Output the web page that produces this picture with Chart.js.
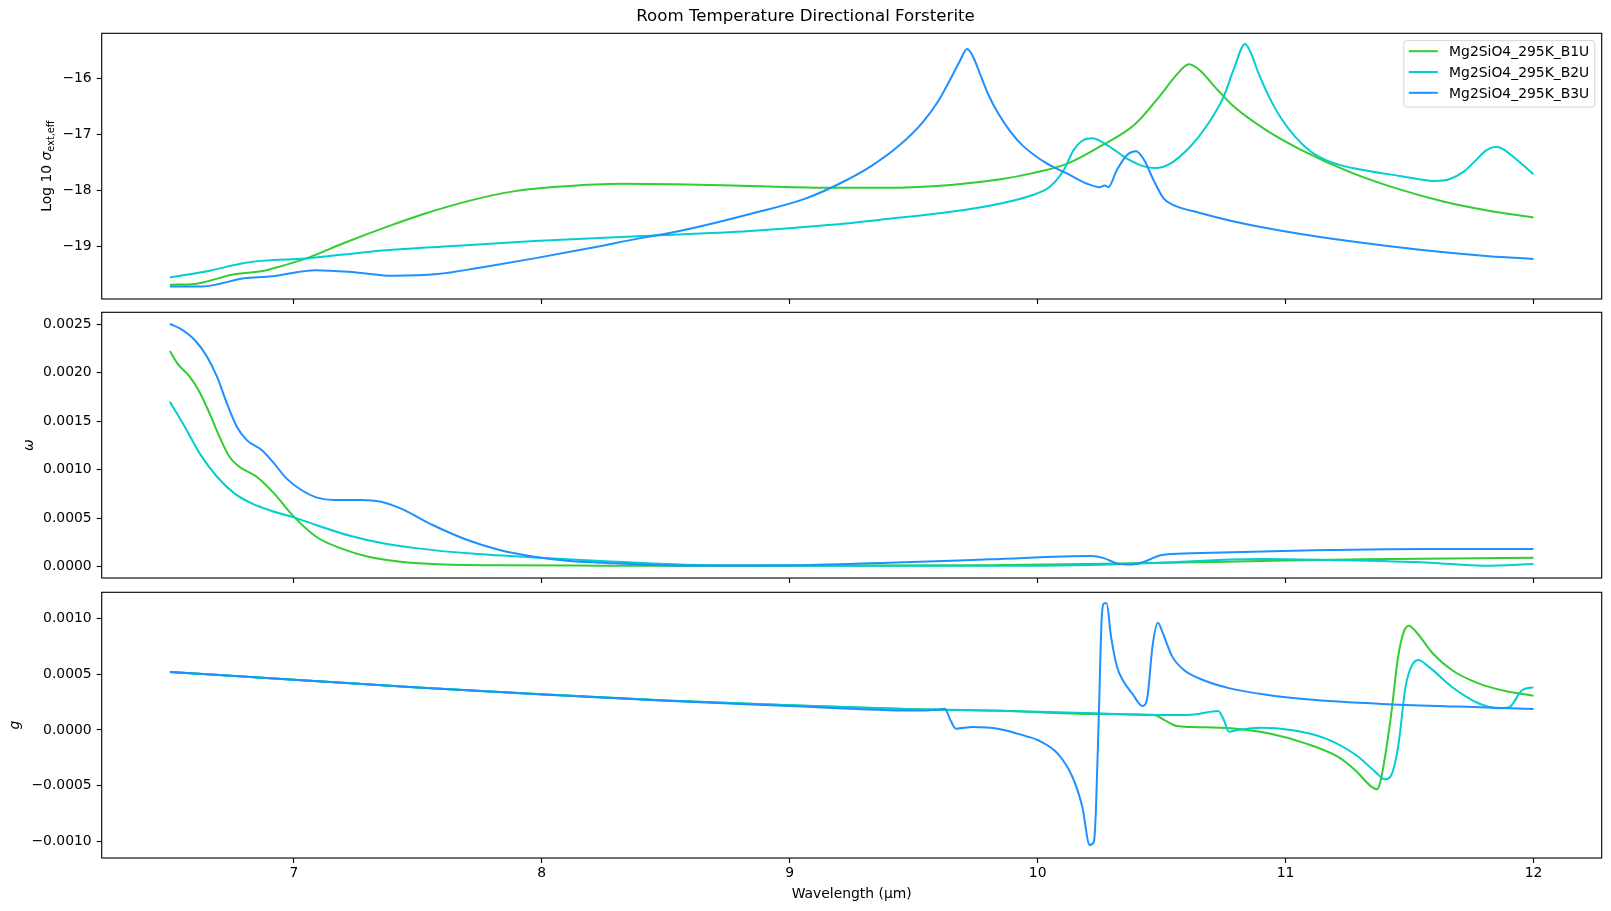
<!DOCTYPE html>
<html>
<head>
<meta charset="utf-8">
<title>Room Temperature Directional Forsterite</title>
<script src="https://cdn.jsdelivr.net/npm/chart.js@4.4.1/dist/chart.umd.min.js"></script>
<style>
  html, body { margin: 0; padding: 0; background: #fff; }
  #wrap { position: relative; width: 1611px; height: 911px; }
  #wrap canvas { position: absolute; left: 0; top: 0; }
</style>
</head>
<body>
<div id="wrap">
  <canvas id="cSigma" width="1611" height="911"></canvas>
  <canvas id="cOmega" width="1611" height="911"></canvas>
  <canvas id="cG" width="1611" height="911"></canvas>
</div>
<script>
// series names / colours
const seriesNames = ['Mg2SiO4_295K_B1U', 'Mg2SiO4_295K_B2U', 'Mg2SiO4_295K_B3U'];
const seriesColors = ['#32cd32', '#00ced1', '#1e90ff'];

// shared wavelength axis
const xMin = 6.225, xMax = 12.275;
const xTicks = [7, 8, 9, 10, 11, 12];

// panel 1: log10 sigma_ext,eff
const sigmaTicks = [-19, -18, -17, -16];
const sigB1U_x = [6.50, 6.60, 6.65, 6.75, 6.88, 6.94, 7.05, 7.20, 7.38, 7.53, 7.71, 7.88, 8.08, 8.32, 8.54, 8.84, 9.17, 9.39, 9.65, 9.85, 9.98, 10.12, 10.25, 10.39, 10.49, 10.56, 10.61, 10.655, 10.72, 10.79, 10.92, 11.06, 11.27, 11.46, 11.64, 11.82, 12.00];
const sigB1U_y = [-19.68, -19.665, -19.62, -19.50, -19.43, -19.36, -19.21, -18.94, -18.64, -18.41, -18.18, -18.02, -17.93, -17.88, -17.89, -17.92, -17.95, -17.95, -17.90, -17.80, -17.69, -17.52, -17.22, -16.83, -16.33, -15.94, -15.75, -15.86, -16.18, -16.50, -16.92, -17.27, -17.69, -17.98, -18.20, -18.36, -18.48];
const sigB2U_x = [6.50, 6.66, 6.79, 6.88, 7.05, 7.31, 7.64, 7.97, 8.41, 8.84, 9.17, 9.39, 9.65, 9.85, 9.98, 10.05, 10.105, 10.145, 10.185, 10.22, 10.28, 10.36, 10.43, 10.475, 10.535, 10.615, 10.68, 10.75, 10.79, 10.837, 10.86, 10.89, 10.93, 10.98, 11.04, 11.10, 11.18, 11.27, 11.46, 11.60, 11.66, 11.72, 11.77, 11.81, 11.85, 11.88, 11.94, 12.00];
const sigB2U_y = [-19.55, -19.43, -19.30, -19.25, -19.21, -19.09, -18.99, -18.90, -18.81, -18.72, -18.61, -18.51, -18.38, -18.23, -18.08, -17.93, -17.64, -17.28, -17.10, -17.07, -17.19, -17.43, -17.57, -17.60, -17.52, -17.22, -16.86, -16.33, -15.85, -15.39, -15.55, -15.90, -16.30, -16.70, -17.05, -17.30, -17.49, -17.60, -17.74, -17.83, -17.80, -17.66, -17.45, -17.28, -17.22, -17.27, -17.48, -17.71];
const sigB3U_x = [6.50, 6.63, 6.80, 6.90, 7.09, 7.25, 7.40, 7.58, 7.75, 7.97, 8.19, 8.41, 8.49, 8.62, 8.84, 9.06, 9.20, 9.33, 9.446, 9.537, 9.60, 9.65, 9.683, 9.716, 9.74, 9.77, 9.80, 9.84, 9.89, 9.94, 10.03, 10.12, 10.20, 10.25, 10.27, 10.285, 10.32, 10.36, 10.397, 10.43, 10.467, 10.508, 10.548, 10.655, 10.82, 11.00, 11.27, 11.55, 11.82, 12.00];
const sigB3U_y = [-19.71, -19.71, -19.565, -19.535, -19.42, -19.46, -19.52, -19.49, -19.375, -19.21, -19.03, -18.84, -18.78, -18.66, -18.42, -18.15, -17.88, -17.56, -17.18, -16.78, -16.40, -16.00, -15.72, -15.48, -15.62, -15.95, -16.28, -16.62, -16.95, -17.20, -17.50, -17.70, -17.88, -17.94, -17.91, -17.94, -17.63, -17.37, -17.30, -17.46, -17.81, -18.14, -18.26, -18.40, -18.58, -18.73, -18.91, -19.06, -19.17, -19.22];

// panel 2: single scattering albedo omega
const omegaTicks = [0, 0.0005, 0.001, 0.0015, 0.002, 0.0025];
const omB1U_x = [6.50, 6.53, 6.58, 6.62, 6.66, 6.70, 6.74, 6.78, 6.85, 6.92, 7.00, 7.09, 7.19, 7.30, 7.43, 7.56, 7.83, 8.24, 9.00, 9.80, 10.21, 10.76, 11.31, 12.00];
const omB1U_y = [0.002224, 0.002097, 0.00196, 0.0018, 0.001582, 0.001341, 0.001134, 0.001031, 0.000928, 0.000756, 0.000516, 0.000309, 0.000189, 0.000103, 0.000052, 0.000028, 0.000014, 0.000011, 0.00001, 0.000015, 0.000028, 0.000052, 0.000076, 0.000093];
const omB2U_x = [6.50, 6.56, 6.62, 6.69, 6.76, 6.83, 6.92, 7.00, 7.09, 7.23, 7.36, 7.50, 7.70, 7.97, 8.24, 8.58, 9.13, 9.94, 10.22, 10.49, 10.90, 11.17, 11.58, 11.80, 12.00];
const omB2U_y = [0.001702, 0.001444, 0.001169, 0.000928, 0.000756, 0.000653, 0.000567, 0.000509, 0.00043, 0.000316, 0.000241, 0.000189, 0.000138, 0.000096, 0.00006, 0.000021, 0.00001, 0.00001, 0.000017, 0.000042, 0.000079, 0.000069, 0.000042, 0.00001, 0.000028];
const omB3U_x = [6.50, 6.54, 6.60, 6.65, 6.69, 6.73, 6.77, 6.81, 6.87, 6.92, 6.97, 7.03, 7.09, 7.16, 7.27, 7.35, 7.43, 7.56, 7.70, 7.83, 7.97, 8.10, 8.24, 8.58, 8.99, 9.40, 9.81, 10.215, 10.27, 10.32, 10.38, 10.43, 10.50, 10.62, 11.03, 11.58, 12.00];
const omB3U_y = [0.002503, 0.002458, 0.002338, 0.002166, 0.00196, 0.001685, 0.001444, 0.001306, 0.001203, 0.001066, 0.000911, 0.000791, 0.000715, 0.000688, 0.000688, 0.000671, 0.000602, 0.00043, 0.000275, 0.000172, 0.000103, 0.000062, 0.000041, 0.000011, 0.000014, 0.000042, 0.000076, 0.00011, 0.000086, 0.000034, 0.000024, 0.000052, 0.00012, 0.000138, 0.000165, 0.000182, 0.000182];

// panel 3: asymmetry parameter g
const gTicks = [-0.001, -0.0005, 0, 0.0005, 0.001];
const gB1U_x = [6.50, 7.00, 7.50, 8.00, 8.50, 9.00, 9.50, 9.85, 10.23, 10.47, 10.51, 10.56, 10.62, 10.78, 10.93, 11.08, 11.21, 11.28, 11.346, 11.369, 11.384, 11.423, 11.454, 11.477, 11.497, 11.531, 11.593, 11.67, 11.778, 11.886, 12.00];
const gB1U_y = [0.000521, 0.000452, 0.000381, 0.00032, 0.000266, 0.000222, 0.000187, 0.000172, 0.000143, 0.000135, 0.00009, 0.000036, 0.000027, 0.000015, -0.00003, -0.00012, -0.00024, -0.00036, -0.000509, -0.000533, -0.000449, 0.00009, 0.000659, 0.000883, 0.000937, 0.000869, 0.000689, 0.000539, 0.000419, 0.00035, 0.000308];
const gB2U_x = [6.50, 7.00, 7.50, 8.00, 8.50, 9.00, 9.50, 9.85, 10.23, 10.47, 10.62, 10.70, 10.728, 10.751, 10.771, 10.806, 10.898, 11.022, 11.16, 11.284, 11.361, 11.40, 11.423, 11.454, 11.484, 11.507, 11.535, 11.577, 11.67, 11.778, 11.855, 11.901, 11.955, 12.00];
const gB2U_y = [0.000521, 0.000452, 0.000381, 0.00032, 0.000266, 0.000222, 0.000187, 0.000172, 0.00015, 0.000135, 0.000138, 0.000165, 0.000171, 0.00009, -0.000015, 0.0, 0.000021, 0.0, -0.000075, -0.000225, -0.000374, -0.000443, -0.000419, -0.00015, 0.000389, 0.000569, 0.000629, 0.000569, 0.000389, 0.00024, 0.000195, 0.000204, 0.000359, 0.000383];
const gB3U_x = [6.50, 7.00, 7.50, 8.00, 8.50, 9.00, 9.40, 9.55, 9.60, 9.625, 9.65, 9.67, 9.74, 9.84, 9.96, 10.00, 10.08, 10.14, 10.18, 10.21, 10.227, 10.235, 10.247, 10.258, 10.269, 10.278, 10.296, 10.32, 10.343, 10.381, 10.423, 10.443, 10.463, 10.485, 10.505, 10.543, 10.59, 10.667, 10.775, 10.929, 11.083, 11.392, 11.70, 12.00];
const gB3U_y = [0.000521, 0.000452, 0.000381, 0.000318, 0.000262, 0.000215, 0.000178, 0.000175, 0.000185, 0.00019, 0.00008, 0.000012, 0.000027, 0.000012, -0.00006, -0.00009, -0.00021, -0.00042, -0.00069, -0.001033, -0.001003, -0.00072, 0.00015, 0.000988, 0.001138, 0.001138, 0.000839, 0.000569, 0.000449, 0.000329, 0.000216, 0.0003, 0.000749, 0.000964, 0.000869, 0.000659, 0.000539, 0.000449, 0.000374, 0.000314, 0.000276, 0.000234, 0.00021, 0.000189];

const FONT = '"DejaVu Sans", sans-serif';
const FS = 13.9;   // 10pt at 100 dpi
const SIDE_PAD = 9.3;
const Y_AXIS_W = 92.4;

function minus(s) { return s.replace('-', '\u2212'); }

// black box around the plot area, like matplotlib spines
const frame = {
    id: 'frame',
    afterDatasetsDraw(chart) {
        const ctx = chart.ctx, a = chart.chartArea;
        ctx.save();
        ctx.strokeStyle = '#000';
        ctx.lineWidth = 1.1;
        ctx.strokeRect(a.left, a.top, a.right - a.left, a.bottom - a.top);
        ctx.restore();
    }
};

// rotated y label drawn in pieces (so sub/italics work)
function makeYLabel(parts, baseX) {
    return {
        id: 'yLabel',
        afterDraw(chart) {
            const ctx = chart.ctx, a = chart.chartArea;
            ctx.save();
            ctx.translate(baseX, (a.top + a.bottom) / 2);
            ctx.rotate(-Math.PI / 2);
            ctx.fillStyle = '#000';
            ctx.textBaseline = 'alphabetic';
            ctx.textAlign = 'left';
            let total = 0;
            const widths = parts.map(p => { ctx.font = p.font; const w = ctx.measureText(p.text).width; total += w; return w; });
            let cx = -total / 2;
            parts.forEach((p, i) => {
                ctx.font = p.font;
                ctx.fillText(p.text, cx, p.dy || 0);
                cx += widths[i];
            });
            ctx.restore();
        }
    };
}

// matplotlib style legend in the upper right corner
const legendBox = {
    id: 'legendBox',
    afterDraw(chart) {
        const ctx = chart.ctx, a = chart.chartArea;
        const w = 191, h = 66.5;
        const x0 = a.right - 6.9 - w, y0 = a.top + 7.3;
        const r = 3;
        ctx.save();
        ctx.beginPath();
        ctx.moveTo(x0 + r, y0);
        ctx.lineTo(x0 + w - r, y0);
        ctx.arcTo(x0 + w, y0, x0 + w, y0 + r, r);
        ctx.lineTo(x0 + w, y0 + h - r);
        ctx.arcTo(x0 + w, y0 + h, x0 + w - r, y0 + h, r);
        ctx.lineTo(x0 + r, y0 + h);
        ctx.arcTo(x0, y0 + h, x0, y0 + h - r, r);
        ctx.lineTo(x0, y0 + r);
        ctx.arcTo(x0, y0, x0 + r, y0, r);
        ctx.closePath();
        ctx.fillStyle = 'rgba(255,255,255,0.8)';
        ctx.fill();
        ctx.strokeStyle = 'rgba(204,204,204,0.8)';
        ctx.lineWidth = 1;
        ctx.stroke();

        ctx.font = FS + 'px ' + FONT;
        ctx.textBaseline = 'alphabetic';
        ctx.fillStyle = '#000';
        chart.data.datasets.forEach((ds, i) => {
            const y = y0 + 10.6 + i * 20.8;
            ctx.beginPath();
            ctx.moveTo(x0 + 5, y);
            ctx.lineTo(x0 + 34, y);
            ctx.strokeStyle = ds.borderColor;
            ctx.lineWidth = 2;
            ctx.stroke();
            ctx.fillText(ds.label, x0 + 45.3, y + 5);
        });
        ctx.restore();
    }
};

function axisGrid() {
    return { display: true, drawOnChartArea: false, drawTicks: true, tickLength: 5, tickWidth: 1.1, color: '#000' };
}

function buildChart(canvasId, cfg) {
    const xs = cfg.xs, ys = cfg.ys;
    const datasets = xs.map((xArr, i) => ({
        label: seriesNames[i],
        data: xArr.map((x, j) => ({ x: x, y: ys[i][j] })),
        borderColor: seriesColors[i],
        backgroundColor: seriesColors[i],
        borderWidth: 2,
        borderJoinStyle: 'round',
        pointRadius: 0,
        fill: false,
        cubicInterpolationMode: 'monotone',
        order: 2 - i
    }));

    return new Chart(document.getElementById(canvasId), {
        type: 'line',
        data: { datasets: datasets },
        options: {
            responsive: false,
            animation: false,
            devicePixelRatio: 1,
            events: [],
            layout: { padding: { left: SIDE_PAD, right: SIDE_PAD, top: cfg.padTop, bottom: cfg.padBottom } },
            scales: {
                x: {
                    type: 'linear',
                    position: 'bottom',
                    min: xMin,
                    max: xMax,
                    bounds: 'data',
                    afterBuildTicks: s => { s.ticks = xTicks.map(v => ({ value: v })); },
                    afterFit: s => { s.height = cfg.xHeight; },
                    grid: axisGrid(),
                    border: { display: false },
                    ticks: {
                        display: cfg.showX,
                        padding: 2,
                        color: '#000',
                        autoSkip: false,
                        maxRotation: 0,
                        font: { family: FONT, size: FS },
                        callback: v => String(v)
                    },
                    title: {
                        display: cfg.showX,
                        text: 'Wavelength (\u03bcm)',
                        color: '#000',
                        font: { family: FONT, size: FS },
                        padding: { top: 0, bottom: 8.7 }
                    }
                },
                y: {
                    type: 'linear',
                    min: cfg.yMin,
                    max: cfg.yMax,
                    bounds: 'data',
                    afterBuildTicks: s => { s.ticks = cfg.yTicks.map(v => ({ value: v })); },
                    afterFit: s => { s.width = Y_AXIS_W; },
                    grid: axisGrid(),
                    border: { display: false },
                    ticks: {
                        padding: 5,
                        color: '#000',
                        autoSkip: false,
                        font: { family: FONT, size: FS },
                        callback: cfg.yFmt
                    }
                }
            },
            plugins: {
                legend: { display: false },
                tooltip: { enabled: false },
                title: cfg.title || { display: false }
            }
        },
        plugins: [frame, makeYLabel(cfg.ylabel, cfg.ylabelX)].concat(cfg.extra || [])
    });
}

// top panel
buildChart('cSigma', {
    xs: [sigB1U_x, sigB2U_x, sigB3U_x],
    ys: [sigB1U_y, sigB2U_y, sigB3U_y],
    yMin: -19.934, yMax: -15.198, yTicks: sigmaTicks,
    yFmt: v => minus(String(v)),
    padTop: 0, padBottom: 911 - 299 - 10, xHeight: 10, showX: false,
    title: {
        display: true,
        text: 'Room Temperature Directional Forsterite',
        color: '#000',
        font: { family: FONT, size: 16.67, weight: 'normal', lineHeight: 1.2 },
        padding: { top: 6.8, bottom: 6.5 }
    },
    ylabel: [
        { text: 'Log 10 ', font: FS + 'px ' + FONT },
        { text: '\u03c3', font: 'italic ' + FS + 'px ' + FONT },
        { text: 'ext,eff', font: (FS * 0.7).toFixed(2) + 'px ' + FONT, dy: 3 }
    ],
    ylabelX: 50.5,
    extra: [legendBox]
});

// middle panel
buildChart('cOmega', {
    xs: [omB1U_x, omB2U_x, omB3U_x],
    ys: [omB1U_y, omB2U_y, omB3U_y],
    yMin: -0.0001165, yMax: 0.002624, yTicks: omegaTicks,
    yFmt: v => minus(v.toFixed(4)),
    padTop: 312.3, padBottom: 911 - 578 - 10, xHeight: 10, showX: false,
    ylabel: [{ text: '\u03c9', font: 'italic ' + FS + 'px ' + FONT }],
    ylabelX: 33
});

// bottom panel
buildChart('cG', {
    xs: [gB1U_x, gB2U_x, gB3U_x],
    ys: [gB1U_y, gB2U_y, gB3U_y],
    yMin: -0.00115, yMax: 0.001237, yTicks: gTicks,
    yFmt: v => minus(v.toFixed(4)),
    padTop: 592.3, padBottom: 0, xHeight: 911 - 858, showX: true,
    ylabel: [{ text: 'g', font: 'italic ' + FS + 'px ' + FONT }],
    ylabelX: 19.3
});
</script>
</body>
</html>
